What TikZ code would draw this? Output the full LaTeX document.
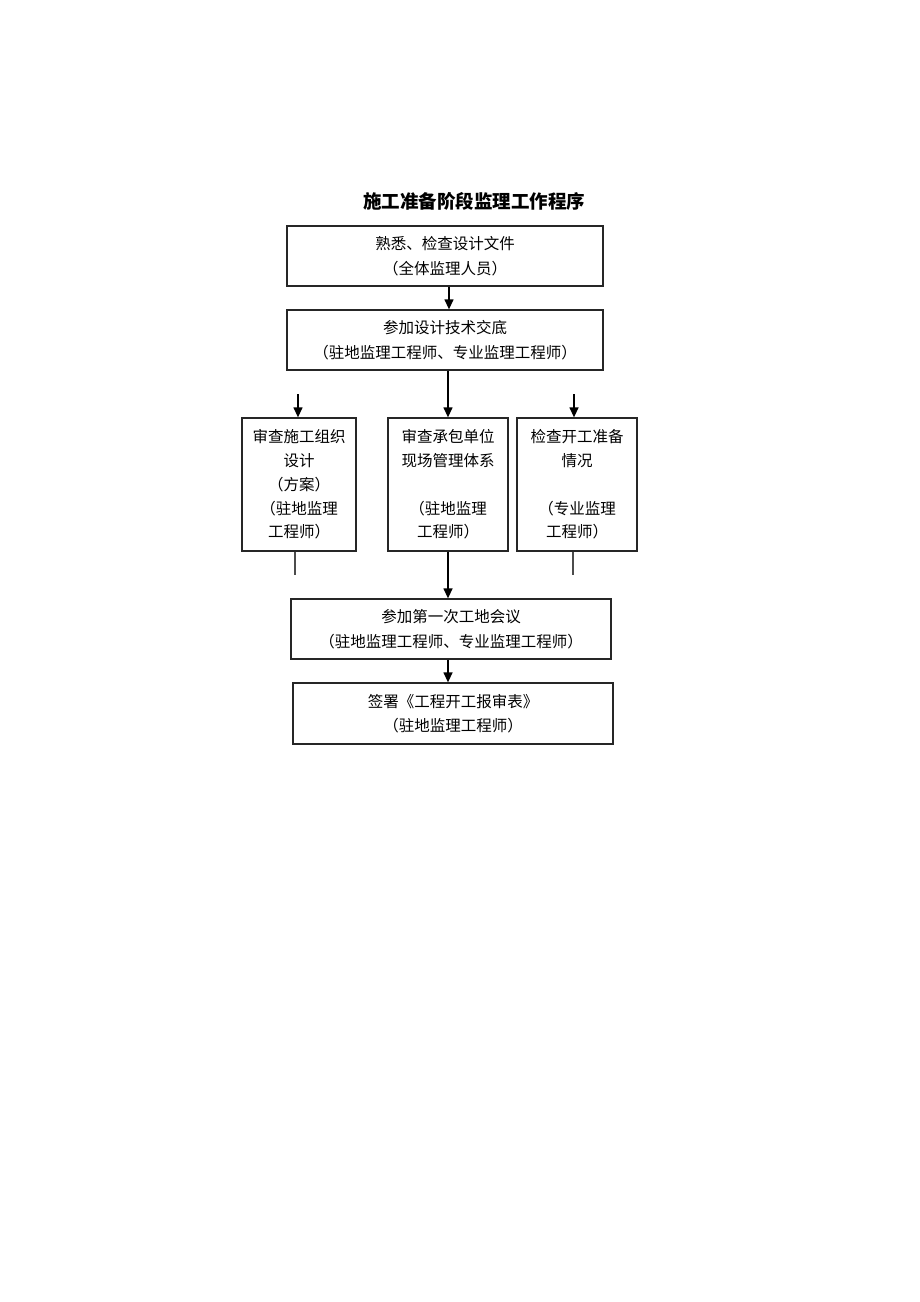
\documentclass[tikz,border=0pt]{standalone}
\usepackage{fontspec}
\setmainfont{Noto Sans CJK SC}
\usetikzlibrary{arrows.meta}
\tikzset{
    box/.style={draw=black!85, line width=1.3pt, inner sep=0pt, align=center,
        font=\fontsize{15.5}{24.5}\selectfont}, % 方框样式
    sidebox/.style={box, minimum width=114pt, minimum height=133pt,
        font=\fontsize{15.5}{23.7}\selectfont}, % 中间三个竖框
    arr/.style={-{Triangle[width=9pt,length=10pt]}, line width=1.3pt}, % 箭头
    stub/.style={draw=black!70, line width=1.2pt} % 短线
}

\begin{document}
\begin{tikzpicture}[x=1pt, y=-1pt]
    \def\W{920} \def\H{1302}
    \useasboundingbox (0,0) rectangle (\W,\H);

    \node[font=\fontsize{18.5}{20}\selectfont\bfseries] (title) at (474,201) {施工准备阶段监理工作程序};

    \node[box, minimum width=316pt, minimum height=60pt] (study) at (445,256) {熟悉、检查设计文件\\（全体监理人员）};
    \node[box, minimum width=316pt, minimum height=60pt] (brief) at (445,340) {参加设计技术交底\\（驻地监理工程师、专业监理工程师）};

    \node[sidebox] (plan) at (299,484.5) {审查施工组织\\设计\\（方案）\\（驻地监理\\工程师）};
    \node[sidebox, minimum width=120pt] (system) at (448,484.5) {审查承包单位\\现场管理体系\\\strut\\（驻地监理\\工程师）};
    \node[sidebox, minimum width=120pt] (ready) at (577,484.5) {检查开工准备\\情况\\\strut\\（专业监理\\工程师）};

    \node[box, minimum width=320pt, minimum height=60pt] (meet) at (451,629) {参加第一次工地会议\\（驻地监理工程师、专业监理工程师）};
    \node[box, minimum width=320pt, minimum height=61pt] (sign) at (453,713.5) {签署《工程开工报审表》\\（驻地监理工程师）};

    \coordinate (planIn) at (298,394);
    \coordinate (readyIn) at (574,394);
    \coordinate (planOut) at (295,575);
    \coordinate (readyOut) at (573,575);

    \draw[arr] ([xshift=4pt]study.south) -- ([xshift=4pt]brief.north);
    \draw[arr] (brief.south -| system.north) -- (system.north);
    \draw[arr] (planIn) -- (planIn |- plan.north);
    \draw[arr] (readyIn) -- (readyIn |- ready.north);
    \draw[stub] (planOut |- plan.south) -- (planOut);
    \draw[stub] (readyOut |- ready.south) -- (readyOut);
    \draw[arr] (system.south) -- (system.south |- meet.north);
    \draw[arr] (meet.south -| system.south) -- (sign.north -| system.south);
\end{tikzpicture}
\end{document}
